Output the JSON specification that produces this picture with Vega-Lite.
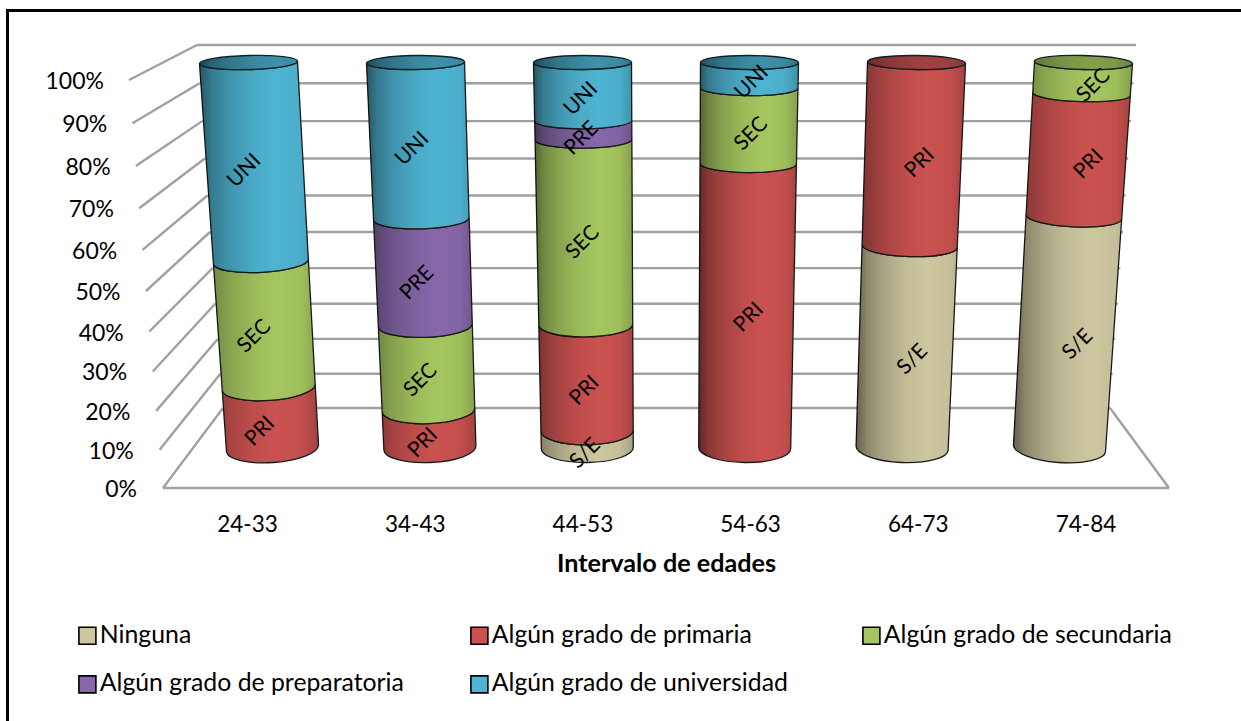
{
  "$schema": "https://vega.github.io/schema/vega-lite/v6.json",
  "autosize": {"type": "none"},
  "padding": 0,
  "width": 1241,
  "height": 721,
  "background": "white",
  "config": {"view": {"stroke": null}, "font": "Lato"},
  "datasets": {
    "escala": [
      {"porcentaje": 0}, {"porcentaje": 10}, {"porcentaje": 20}, {"porcentaje": 30}, {"porcentaje": 40}, {"porcentaje": 50},
      {"porcentaje": 60}, {"porcentaje": 70}, {"porcentaje": 80}, {"porcentaje": 90}, {"porcentaje": 100}
    ],
    "marco": [{"lado": "superior"}, {"lado": "izquierdo"}]
  },
  "data": {
    "values": [
      {"edad": "24-33", "nivel": "Algún grado de primaria", "etiqueta": "PRI", "valor": 16.7},
      {"edad": "24-33", "nivel": "Algún grado de secundaria", "etiqueta": "SEC", "valor": 33.3},
      {"edad": "24-33", "nivel": "Algún grado de universidad", "etiqueta": "UNI", "valor": 50},
      {"edad": "34-43", "nivel": "Algún grado de primaria", "etiqueta": "PRI", "valor": 10.5},
      {"edad": "34-43", "nivel": "Algún grado de secundaria", "etiqueta": "SEC", "valor": 22.8},
      {"edad": "34-43", "nivel": "Algún grado de preparatoria", "etiqueta": "PRE", "valor": 27.7},
      {"edad": "34-43", "nivel": "Algún grado de universidad", "etiqueta": "UNI", "valor": 39},
      {"edad": "44-53", "nivel": "Ninguna", "etiqueta": "S/E", "valor": 4.8},
      {"edad": "44-53", "nivel": "Algún grado de primaria", "etiqueta": "PRI", "valor": 28.6},
      {"edad": "44-53", "nivel": "Algún grado de secundaria", "etiqueta": "SEC", "valor": 47.6},
      {"edad": "44-53", "nivel": "Algún grado de preparatoria", "etiqueta": "PRE", "valor": 4.7},
      {"edad": "44-53", "nivel": "Algún grado de universidad", "etiqueta": "UNI", "valor": 14.3},
      {"edad": "54-63", "nivel": "Algún grado de primaria", "etiqueta": "PRI", "valor": 75},
      {"edad": "54-63", "nivel": "Algún grado de secundaria", "etiqueta": "SEC", "valor": 18.75},
      {"edad": "54-63", "nivel": "Algún grado de universidad", "etiqueta": "UNI", "valor": 6.25},
      {"edad": "64-73", "nivel": "Ninguna", "etiqueta": "S/E", "valor": 54},
      {"edad": "64-73", "nivel": "Algún grado de primaria", "etiqueta": "PRI", "valor": 46},
      {"edad": "74-84", "nivel": "Ninguna", "etiqueta": "S/E", "valor": 61.5},
      {"edad": "74-84", "nivel": "Algún grado de primaria", "etiqueta": "PRI", "valor": 30.8},
      {"edad": "74-84", "nivel": "Algún grado de secundaria", "etiqueta": "SEC", "valor": 7.7}
    ]
  },
  "transform": [
    {"stack": "valor", "groupby": ["edad"], "as": ["p0", "p1"]},
    {"calculate": "indexof(['24-33','34-43','44-53','54-63','64-73','74-84'],datum.edad)", "as": "i"},
    {"calculate": "448-3.605*datum.p0-0.0025*datum.p0*datum.p0", "as": "yA"},
    {"calculate": "448-3.605*datum.p1-0.0025*datum.p1*datum.p1", "as": "yB"},
    {"calculate": "(448-datum.yA)/385.5", "as": "tA"},
    {"calculate": "(448-datum.yB)/385.5", "as": "tB"},
    {"calculate": "272.5+157.4*datum.i+(9.6*datum.i-24)*datum.tA", "as": "cA"},
    {"calculate": "272.5+157.4*datum.i+(9.6*datum.i-24)*datum.tB", "as": "cB"},
    {"calculate": "46+3*datum.tA", "as": "hA"},
    {"calculate": "46+3*datum.tB", "as": "hB"},
    {"calculate": "14.5-7.5*datum.tA", "as": "bA"},
    {"calculate": "14.5-7.5*datum.tB", "as": "bB"},
    {"calculate": "0.5*(datum.i-2.5)*(2.8-1.8*datum.tA)", "as": "dA"},
    {"calculate": "0.5*(datum.i-2.5)*(2.8-1.8*datum.tB)", "as": "dB"},
    {"calculate": "atan2(datum.dA,datum.hA)*180/PI", "as": "rA"},
    {"calculate": "atan2(datum.dB,datum.hB)*180/PI", "as": "rB"},
    {"calculate": "272.5+157.4*datum.i", "as": "c0"},
    {"calculate": "248.5+167*datum.i", "as": "c1"},
    {"calculate": "1.4*(datum.i-2.5)", "as": "d0"},
    {"calculate": "0.5*(datum.i-2.5)", "as": "d1"},
    {"calculate": "atan2(datum.d0,46)*180/PI", "as": "r0"},
    {"calculate": "atan2(datum.d1,49)*180/PI", "as": "r1"}
  ],
  "encoding": {
    "x": {
      "field": "px",
      "type": "quantitative",
      "scale": {"domain": [0, 1241], "nice": false, "zero": false},
      "axis": {
        "values": [247, 414.7, 582.4, 750.1, 917.8, 1085.5],
        "labelExpr": "['24-33','34-43','44-53','54-63','64-73','74-84'][round((datum.value-247)/167.7)]",
        "orient": "bottom",
        "offset": -216,
        "domain": false,
        "ticks": false,
        "grid": false,
        "labelFont": "Lato",
        "labelFontSize": 22.5,
        "labelColor": "#000000",
        "labelPadding": 8,
        "labelOverlap": false,
        "labelFlush": false,
        "title": "Intervalo de edades",
        "titleFont": "Lato",
        "titleFontSize": 25.2,
        "titleFontWeight": "bold",
        "titleColor": "#000000",
        "titleX": 666,
        "titleY": 46,
        "titleAnchor": "middle"
      }
    },
    "y": {
      "field": "py",
      "type": "quantitative",
      "scale": {"domain": [721, 0], "nice": false, "zero": false},
      "axis": null
    }
  },
  "layer": [
    {
      "data": {"name": "marco"},
      "transform": [
        {"calculate": "datum.lado==='superior'?6:7.5", "as": "px"},
        {"calculate": "datum.lado==='superior'?1241:7.5", "as": "px2"},
        {"calculate": "datum.lado==='superior'?10.5:9", "as": "py"},
        {"calculate": "datum.lado==='superior'?10.5:721", "as": "py2"}
      ],
      "mark": {"type": "rule", "color": "#000000", "strokeWidth": 3},
      "encoding": {"x2": {"field": "px2"}, "y2": {"field": "py2"}}
    },
    {
      "data": {"name": "escala"},
      "transform": [
        {"calculate": "163-0.34*datum.porcentaje", "as": "px"},
        {"calculate": "488-3.8*datum.porcentaje-0.0028*datum.porcentaje*datum.porcentaje", "as": "py"},
        {"calculate": "223-0.26*datum.porcentaje", "as": "px2"},
        {"calculate": "408-3.41*datum.porcentaje-0.0022*datum.porcentaje*datum.porcentaje", "as": "py2"}
      ],
      "mark": {"type": "rule", "color": "#a0a0a0", "strokeWidth": 2.4},
      "encoding": {"x2": {"field": "px2"}, "y2": {"field": "py2"}}
    },
    {
      "data": {"name": "escala"},
      "transform": [
        {"calculate": "223-0.26*datum.porcentaje", "as": "px"},
        {"calculate": "1110+0.26*datum.porcentaje", "as": "px2"},
        {"calculate": "408-3.41*datum.porcentaje-0.0022*datum.porcentaje*datum.porcentaje", "as": "py"}
      ],
      "mark": {"type": "rule", "color": "#a0a0a0", "strokeWidth": 2.4},
      "encoding": {"x2": {"field": "px2"}}
    },
    {
      "data": {"name": "escala"},
      "transform": [
        {"filter": "datum.porcentaje===0"},
        {"calculate": "163", "as": "px"},
        {"calculate": "1169", "as": "px2"},
        {"calculate": "488", "as": "py"}
      ],
      "mark": {"type": "rule", "color": "#a0a0a0", "strokeWidth": 2.4},
      "encoding": {"x2": {"field": "px2"}}
    },
    {
      "data": {"name": "escala"},
      "transform": [
        {"filter": "datum.porcentaje===0"},
        {"calculate": "1110", "as": "px"},
        {"calculate": "1169", "as": "px2"},
        {"calculate": "408", "as": "py"},
        {"calculate": "488", "as": "py2"}
      ],
      "mark": {"type": "rule", "color": "#a0a0a0", "strokeWidth": 2.4},
      "encoding": {"x2": {"field": "px2"}, "y2": {"field": "py2"}}
    },
    {
      "data": {"name": "escala"},
      "transform": [
        {"calculate": "137-0.33*datum.porcentaje", "as": "px"},
        {"calculate": "490-3.8*datum.porcentaje-0.0028*datum.porcentaje*datum.porcentaje", "as": "py"},
        {"calculate": "datum.porcentaje+'%'", "as": "rotulo"}
      ],
      "mark": {"type": "text", "align": "right", "baseline": "middle", "font": "Lato", "fontSize": 23, "color": "#000000"},
      "encoding": {"text": {"field": "rotulo"}}
    },
    {
      "transform": [
        {"calculate": "datum.cA", "as": "px"},
        {"calculate": "datum.yA", "as": "py"},
        {"calculate": "'M'+(datum.cB-datum.hB-datum.cA)+','+(datum.yB-datum.dB-datum.yA)+'L'+(-datum.hA)+','+(-datum.dA)+'A'+datum.hA+','+datum.bA+','+datum.rA+',0,0,'+datum.hA+','+datum.dA+'L'+(datum.cB+datum.hB-datum.cA)+','+(datum.yB+datum.dB-datum.yA)+'A'+datum.hB+','+datum.bB+','+datum.rB+',0,1,'+(datum.cB-datum.hB-datum.cA)+','+(datum.yB-datum.dB-datum.yA)+'Z'", "as": "trazo"}
      ],
      "mark": {"type": "point", "filled": true, "opacity": 1, "stroke": "#1a1a1a", "strokeWidth": 1.3, "size": 4},
      "encoding": {
        "shape": {"field": "trazo", "type": "nominal", "scale": null},
        "fill": {
          "field": "nivel",
          "type": "nominal",
          "scale": {
            "domain": ["Ninguna", "Algún grado de primaria", "Algún grado de secundaria", "Algún grado de preparatoria", "Algún grado de universidad"],
            "range": ["#cdc7a0", "#ca5250", "#a5c65f", "#8767aa", "#4eb4d2"]
          },
          "legend": {
            "orient": "none",
            "legendX": 75,
            "legendY": 623,
            "title": null,
            "direction": "horizontal",
            "columns": 3,
            "gridAlign": "all",
            "columnPadding": 63,
            "rowPadding": 23,
            "symbolType": "square",
            "symbolSize": 289,
            "symbolStrokeColor": "#000000",
            "symbolStrokeWidth": 1.6,
            "symbolOpacity": 1,
            "labelFont": "Lato",
            "labelFontSize": 24.8,
            "labelColor": "#000000",
            "labelOffset": 0,
            "labelLimit": 400
          }
        }
      }
    },
    {
      "transform": [
        {"filter": "datum.p1>99.9"},
        {"calculate": "datum.c1", "as": "px"},
        {"calculate": "62.5", "as": "py"},
        {"calculate": "'M-49,'+(-datum.d1)+'A49,7,'+datum.r1+',0,0,49,'+datum.d1+'A49,7,'+datum.r1+',0,0,-49,'+(-datum.d1)+'Z'", "as": "trazo"}
      ],
      "mark": {"type": "point", "filled": true, "opacity": 1, "size": 4},
      "encoding": {
        "shape": {"field": "trazo", "type": "nominal", "scale": null},
        "fill": {"field": "nivel", "type": "nominal", "legend": null}
      }
    },
    {
      "transform": [
        {"filter": "datum.p1>99.9"},
        {"calculate": "datum.c0", "as": "px"},
        {"calculate": "448", "as": "py"},
        {"calculate": "'M'+(datum.c1-49-datum.c0)+','+(62.5-datum.d1-448)+'L-46,'+(-datum.d0)+'A46,14.5,'+datum.r0+',0,0,46,'+datum.d0+'L'+(datum.c1+49-datum.c0)+','+(62.5+datum.d1-448)+'A49,7,'+datum.r1+',0,0,'+(datum.c1-49-datum.c0)+','+(62.5-datum.d1-448)+'Z'", "as": "trazo"}
      ],
      "mark": {
        "type": "point",
        "filled": true,
        "opacity": 1,
        "size": 4,
        "fill": {
          "gradient": "linear",
          "x1": 0, "y1": 0, "x2": 1, "y2": 0,
          "stops": [
            {"offset": 0, "color": "rgba(0,0,0,0.52)"},
            {"offset": 0.1, "color": "rgba(0,0,0,0.32)"},
            {"offset": 0.25, "color": "rgba(0,0,0,0.18)"},
            {"offset": 0.45, "color": "rgba(0,0,0,0.06)"},
            {"offset": 0.64, "color": "rgba(0,0,0,0)"},
            {"offset": 0.86, "color": "rgba(0,0,0,0.04)"},
            {"offset": 1, "color": "rgba(0,0,0,0.2)"}
          ]
        }
      },
      "encoding": {"shape": {"field": "trazo", "type": "nominal", "scale": null}}
    },
    {
      "transform": [
        {"filter": "datum.p1>99.9"},
        {"calculate": "datum.c1", "as": "px"},
        {"calculate": "62.5", "as": "py"},
        {"calculate": "'M-49,'+(-datum.d1)+'A49,7,'+datum.r1+',0,0,49,'+datum.d1+'A49,7,'+datum.r1+',0,0,-49,'+(-datum.d1)+'Z'", "as": "trazo"}
      ],
      "mark": {"type": "point", "filled": true, "opacity": 1, "fill": "rgba(0,0,0,0.2)", "stroke": "#10202a", "strokeWidth": 1.4, "size": 4},
      "encoding": {"shape": {"field": "trazo", "type": "nominal", "scale": null}}
    },
    {
      "transform": [
        {"calculate": "(datum.yA+datum.yB)/2", "as": "yM"},
        {"calculate": "(448-datum.yM)/385.5", "as": "tM"},
        {"calculate": "272.5+157.4*datum.i+(9.6*datum.i-24)*datum.tM+4.3*(datum.i-2.4)", "as": "px"},
        {"calculate": "datum.yM+14.5-7.5*datum.tM", "as": "py"}
      ],
      "mark": {"type": "text", "angle": 315, "align": "center", "baseline": "middle", "font": "Lato", "fontSize": 21, "color": "#000000"},
      "encoding": {"text": {"field": "etiqueta"}}
    }
  ]
}
